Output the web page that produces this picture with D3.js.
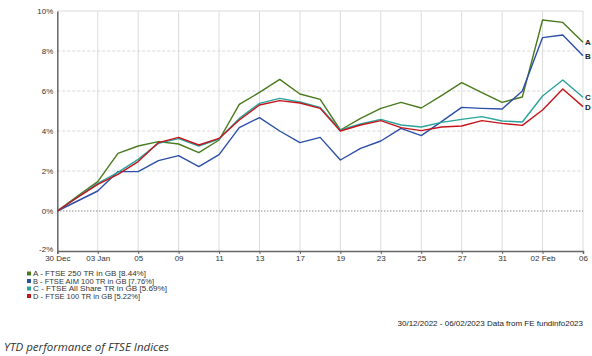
<!DOCTYPE html>
<html><head><meta charset="utf-8">
<script src="https://cdnjs.cloudflare.com/ajax/libs/d3/7.8.5/d3.min.js"></script>
<style>body{margin:0;background:#fff}svg{display:block}</style>
</head><body>
<svg id="c" width="592" height="356"></svg>
<script>
const dates = ["30 Dec","02 Jan","03 Jan","04 Jan","05 Jan","06 Jan","09 Jan","10 Jan","11 Jan","12 Jan","13 Jan","16 Jan","17 Jan","18 Jan","19 Jan","20 Jan","23 Jan","24 Jan","25 Jan","26 Jan","27 Jan","30 Jan","31 Jan","01 Feb","02 Feb","03 Feb","06 Feb"];
const tickLabels = ["30 Dec","03 Jan","05","09","11","13","17","19","23","25","27","31","02 Feb","06"];
const yTicks = [-2,0,2,4,6,8,10];
const seriesA = [0,0.75,1.47,2.88,3.25,3.47,3.35,2.92,3.55,5.33,5.93,6.58,5.85,5.58,4.05,4.63,5.13,5.43,5.15,5.77,6.42,5.92,5.43,5.7,9.55,9.43,8.44];
const seriesB = [0,0.5,1.0,1.97,1.97,2.52,2.77,2.22,2.82,4.17,4.67,4.0,3.42,3.68,2.55,3.13,3.5,4.13,3.77,4.47,5.18,5.13,5.1,6.0,8.67,8.8,7.76];
const seriesC = [0,0.7,1.38,1.93,2.58,3.38,3.62,3.25,3.6,4.63,5.38,5.63,5.45,5.18,4.05,4.35,4.58,4.3,4.2,4.43,4.58,4.72,4.5,4.45,5.75,6.55,5.69];
const seriesD = [0,0.68,1.33,1.83,2.47,3.42,3.68,3.3,3.63,4.55,5.3,5.52,5.4,5.13,4.0,4.3,4.52,4.17,4.02,4.2,4.25,4.52,4.38,4.28,5.05,6.1,5.22];
const seriesKeys = ["A","B","C","D"];
const seriesNames = ["A - FTSE 250 TR in GB [8.44%]","B - FTSE AIM 100 TR in GB [7.76%]","C - FTSE All Share TR in GB [5.69%]","D - FTSE 100 TR in GB [5.22%]"];
const seriesColors = ["#4a7a1e","#2c4fa6","#2aa39a","#c4151c"];
const seriesData = [seriesA, seriesB, seriesC, seriesD];

const svg = d3.select("#c");
const font = "'Liberation Sans', Arial, sans-serif";
const L = 57.3, R = 583, T = 11, B = 251;
const x = d3.scalePoint().domain(dates).range([L, R]);
const y = d3.scaleLinear().domain([-2, 10]).range([B, T]);
const tickDates = tickLabels.map((t, i) => dates[i * 2]);

// vertical grid
svg.append("g").selectAll("line").data(tickDates.slice(1)).join("line")
  .attr("x1", d => x(d)).attr("x2", d => x(d)).attr("y1", T).attr("y2", B)
  .attr("stroke", "#dcdcdc").attr("stroke-width", 1);
// horizontal grid
svg.append("g").selectAll("line").data([2,4,6,8]).join("line")
  .attr("x1", L).attr("x2", R).attr("y1", d => y(d)).attr("y2", d => y(d))
  .attr("stroke", "#d8d8d8").attr("stroke-dasharray", "3,2");
svg.append("line").attr("x1", L).attr("x2", R).attr("y1", y(10)).attr("y2", y(10)).attr("stroke", "#dcdcdc");
svg.append("line").attr("x1", L).attr("x2", R).attr("y1", y(0)).attr("y2", y(0))
  .attr("stroke", "#555").attr("stroke-dasharray", "1,2");

// axes
const yAxis = d3.axisLeft(y).tickValues(yTicks).tickSize(0).tickPadding(4).tickFormat(d => d + "%");
const gy = svg.append("g").attr("transform", `translate(${L},0)`).call(yAxis);
gy.select(".domain").attr("stroke", "#666").attr("stroke-width", 1.5);
gy.selectAll("text").attr("font-family", font).attr("font-size", 8).attr("fill", "#333");
gy.selectAll(".tick").filter(d => d === -2).select("text").attr("y", -2);

const xAxis = d3.axisBottom(x).tickValues(tickDates).tickSize(3).tickPadding(1)
  .tickFormat((d, i) => tickLabels[i]);
const gx = svg.append("g").attr("transform", `translate(0,${B})`).call(xAxis);
gx.select(".domain").attr("stroke", "#666").attr("stroke-width", 1.5);
gx.selectAll(".tick line").attr("stroke", "#666");
gx.selectAll("text").attr("font-family", font).attr("font-size", 8).attr("fill", "#333");

// lines
const line = d3.line().x((d, i) => x(dates[i])).y(d => y(d));
seriesData.forEach((s, k) => {
  svg.append("path").datum(s).attr("d", line).attr("fill", "none")
    .attr("stroke", seriesColors[k]).attr("stroke-width", 1.4).attr("stroke-linejoin", "round");
});
// end labels
seriesData.forEach((s, k) => {
  svg.append("text").attr("x", R + 2).attr("y", y(s[s.length - 1]) + 3)
    .attr("font-family", font).attr("font-size", 8).attr("font-weight", "bold").attr("fill", "#222")
    .text(seriesKeys[k]);
});

// legend
const legendWidths = [113, 121, 134, 107];
const lg = svg.append("g");
seriesNames.forEach((n, k) => {
  const yy = 274 + k * 7.5;
  lg.append("rect").attr("x", 27).attr("y", yy - 2.5).attr("width", 4).attr("height", 4).attr("fill", seriesColors[k]);
  lg.append("text").attr("x", 33).attr("y", yy + 2.4).attr("font-family", font).attr("font-size", 6.4)
    .attr("fill", "#333").attr("textLength", legendWidths[k]).attr("lengthAdjust", "spacingAndGlyphs").text(n);
});

// footer
svg.append("text").attr("x", 583).attr("y", 326).attr("text-anchor", "end")
  .attr("font-family", font).attr("font-size", 8).attr("fill", "#222")
  .text("30/12/2022 - 06/02/2023 Data from FE fundinfo2023");
svg.append("text").attr("x", 4).attr("y", 351)
  .attr("font-family", "'Open Sans', sans-serif").attr("font-size", 11.5).attr("font-style", "italic").attr("fill", "#333")
  .text("YTD performance of FTSE Indices");
</script>
</body></html>
